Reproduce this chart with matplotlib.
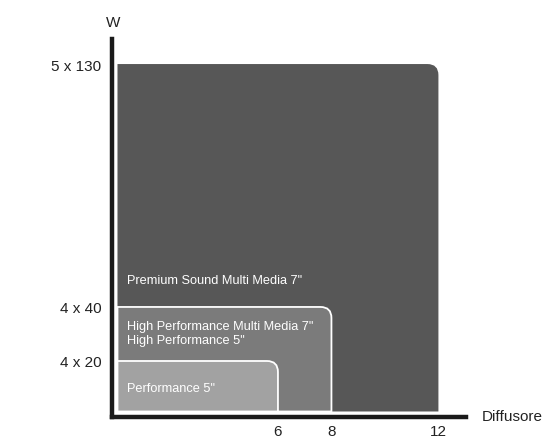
import matplotlib.pyplot as plt
from matplotlib.path import Path
from matplotlib.patches import PathPatch

# diffusore sizes (x) and power tiers (y, drawn as tier heights)
diffusore = [12, 8, 6]
livelli = [6.88, 2.07, 1.0]
potenza = ["5 x 130", "4 x 40", "4 x 20"]
nomi = ['Premium Sound Multi Media 7"',
        'High Performance Multi Media 7"\nHigh Performance 5"',
        'Performance 5"']
colori = ["#575757", "#7b7b7b", "#a2a2a2"]
testo_y = [2.61, 1.55, 0.465]

plt.rcParams['font.family'] = ['Liberation Sans', 'DejaVu Sans']

fig = plt.figure(figsize=(5.5, 4.39), dpi=100)
ax = fig.add_axes([112.3 / 550, 1 - 418.3 / 439, (465.7 - 112.3) / 550, (418.3 - 40) / 439])
ax.set_xlim(-0.194, 13.02)
ax.set_ylim(-0.115, 7.376)

rx, ry = 0.41, 0.218


def box(w, h):
    verts = [(0, 0), (w, 0), (w, h - ry), (w, h), (w - rx, h), (0, h), (0, 0)]
    codes = [Path.MOVETO, Path.LINETO, Path.LINETO, Path.CURVE3, Path.CURVE3,
             Path.LINETO, Path.CLOSEPOLY]
    return Path(verts, codes)


for i in range(len(diffusore)):
    lw = 0 if i == 0 else 1.3
    ax.add_patch(PathPatch(box(diffusore[i], livelli[i]), facecolor=colori[i],
                           edgecolor="white", linewidth=lw, zorder=i + 1))
    ax.text(0.366, testo_y[i], nomi[i], color="white", fontsize=9.2,
            ha="left", va="center", linespacing=1.25, zorder=5)

for s in ["top", "right"]:
    ax.spines[s].set_visible(False)
for s in ["left", "bottom"]:
    ax.spines[s].set_linewidth(3.2)
    ax.spines[s].set_color("#1a1a1a")
    ax.spines[s].set_capstyle("projecting")

ax.set_xticks(diffusore)
ax.set_xticklabels([str(d) for d in diffusore])
ax.set_yticks(livelli)
ax.set_yticklabels(potenza)
ax.tick_params(axis="x", length=0, pad=5, labelsize=11, labelcolor="#222222")
ax.tick_params(axis="y", length=0, pad=8, labelsize=11, labelcolor="#222222")

fig.text(112.7 / 550, 1 - 22.7 / 439, "W", ha="center", va="center", fontsize=11, color="#222222")
fig.text(481.7 / 550, 1 - 416.7 / 439, "Diffusore", ha="left", va="center", fontsize=11, color="#222222")

plt.savefig("out.png", dpi=100)
